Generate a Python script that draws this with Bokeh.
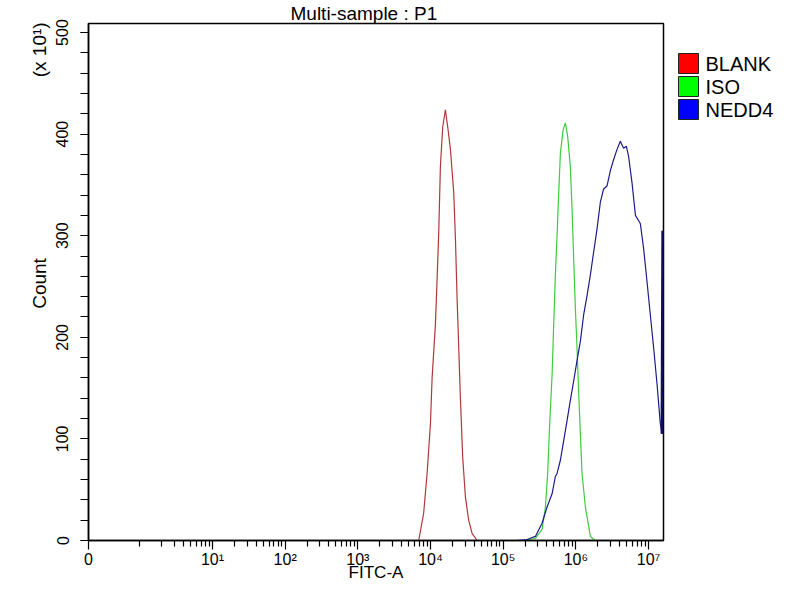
import math
from bokeh.plotting import figure
from bokeh.layouts import row
from bokeh.models import Range1d, FixedTicker, LinearAxis
from bokeh.core.properties import value
from bokeh.embed import file_html
from bokeh.resources import INLINE

FONT = "Liberation Sans"

# histogram outlines: x = log10(FITC-A), y = count (x 10^1)
blank_x = [3.838, 3.906, 3.953, 3.999, 4.022, 4.067, 4.091, 4.113, 4.136, 4.168,
           4.205, 4.237, 4.274, 4.320, 4.343, 4.366, 4.388, 4.411, 4.443, 4.480,
           4.525, 4.572, 4.641]
blank_y = [0, 27, 66, 115, 160, 212, 258, 303, 368, 407,
           424, 407, 385, 342, 297, 238, 190, 141, 82, 43,
           20, 7, 0]

iso_x = [5.278, 5.443, 5.535, 5.581, 5.612, 5.640, 5.673, 5.695, 5.718, 5.741,
         5.764, 5.787, 5.824, 5.856, 5.887, 5.924, 5.948, 5.970, 5.993, 6.016,
         6.038, 6.062, 6.085, 6.131, 6.200, 6.268]
iso_y = [0, 2, 11, 33, 66, 115, 163, 212, 261, 300,
         342, 381, 404, 411, 398, 368, 326, 277, 229, 190,
         147, 105, 66, 33, 4, 0]

nedd4_x = [5.191, 5.329, 5.443, 5.535, 5.604, 5.673, 5.718, 5.741, 5.787, 5.832,
           5.879, 5.924, 5.970, 6.016, 6.062, 6.107, 6.154, 6.199, 6.245, 6.292,
           6.337, 6.382, 6.429, 6.475, 6.520, 6.567, 6.612, 6.657, 6.695, 6.726,
           6.773, 6.820, 6.887, 6.933, 6.979, 7.025, 7.070, 7.117, 7.162, 7.186,
           7.197]
nedd4_y = [0, 1, 4, 17, 33, 46, 63, 66, 79, 98,
           118, 138, 157, 177, 196, 222, 241, 261, 284, 307,
           333, 346, 349, 364, 375, 385, 393, 386, 388, 378,
           352, 320, 312, 287, 255, 222, 190, 154, 115, 105,
           305]

samples = ["BLANK", "ISO", "NEDD4"]
line_colors = ["#b03838", "#3ccc3c", "#1c1c8a"]
box_colors = ["#ff0000", "#00ff00", "#0000ff"]

decades = [1, 2, 3, 4, 5, 6, 7]
decade_labels = ["10\u00b9", "10\u00b2", "10\u00b3", "10\u2074", "10\u2075", "10\u2076", "10\u2077"]
zero_pos = -0.706   # the "0" end of the display scale
x_end = 7.206
y_ticks = [0, 100, 200, 300, 400, 500]

p = figure(width=665, height=584, output_backend="svg", toolbar_location=None,
           x_range=Range1d(zero_pos, x_end), y_range=Range1d(0, 508.9),
           min_border_left=88, min_border_right=2, min_border_top=23, min_border_bottom=40)
p.background_fill_color = "white"
p.border_fill_color = "white"
p.outline_line_color = "black"
p.outline_line_width = 1.5
p.xgrid.visible = False
p.ygrid.visible = False

p.title.text = "Multi-sample : P1"
p.title.text_font = FONT
p.title.text_font_size = "19px"
p.title.text_font_style = "normal"
p.title.text_color = "black"
p.title.align = "left"
p.title.offset = 202
p.title.standoff = 0

minor = [math.log10(k * 10 ** d) for d in range(0, 7) for k in range(1, 10) if not (k == 1 and d > 0)]
p.xaxis.ticker = FixedTicker(ticks=[zero_pos] + decades, minor_ticks=minor)
overrides = {zero_pos: "0"}
for d, lab in zip(decades, decade_labels):
    overrides[d] = lab
p.xaxis.major_label_overrides = overrides
p.xaxis.axis_label = "FITC-A"
p.xaxis.axis_label_text_font = FONT
p.xaxis.axis_label_text_font_size = "17px"
p.xaxis.axis_label_text_font_style = "normal"
p.xaxis.axis_label_text_color = "black"
p.xaxis.axis_label_standoff = -8

p.yaxis.ticker = FixedTicker(ticks=y_ticks, minor_ticks=list(range(0, 520, 20)))
p.yaxis.major_label_orientation = "vertical"

for ax in (p.xaxis, p.yaxis):
    ax.axis_line_width = 1.5
    ax.axis_line_color = "black"
    ax.major_tick_line_color = "black"
    ax.minor_tick_line_color = "black"
    ax.major_tick_line_width = 1.2
    ax.minor_tick_line_width = 1.2
    ax.major_tick_in = 0
    ax.minor_tick_in = 0
    ax.major_label_text_font = FONT
    ax.major_label_text_font_size = "16px"
    ax.major_label_text_color = "black"
p.xaxis.major_tick_out = 9
p.xaxis.minor_tick_out = 6
p.xaxis.major_label_standoff = 1
p.yaxis.major_tick_out = 8
p.yaxis.minor_tick_out = 8
p.yaxis.major_label_standoff = 12

# outer left axis carrying the "Count" title and the scale factor
side_pos = [253, 483]
side_text = ["Count", "(x 10\u00b9)"]
side = LinearAxis(ticker=FixedTicker(ticks=side_pos),
                  major_label_overrides=dict(zip(side_pos, side_text)),
                  major_label_orientation="vertical", major_label_standoff=3,
                  major_label_text_font=FONT, major_label_text_font_size="19px",
                  major_label_text_color="black",
                  major_tick_out=0, major_tick_in=0, minor_tick_out=0, minor_tick_in=0,
                  axis_line_color=None, major_tick_line_color=None, minor_tick_line_color=None)
p.add_layout(side, "left")

p.line(blank_x, blank_y, line_color=line_colors[0], line_width=1.2)
p.line(iso_x, iso_y, line_color=line_colors[1], line_width=1.2)
p.line(nedd4_x, nedd4_y, line_color=line_colors[2], line_width=1.2)
# last channel pile-up drawn heavier, as in the cytometer export
p.line(nedd4_x[-2:], nedd4_y[-2:], line_color="#10105a", line_width=3)

# legend panel on the right; its frame is aligned with the main frame,
# so the range is given in page pixels (y downwards)
lg = figure(width=119, height=584, output_backend="svg", toolbar_location=None,
            x_range=Range1d(0, 119), y_range=Range1d(540, 23), min_border=0)
lg.title = None
lg.axis.visible = False
lg.grid.visible = False
lg.outline_line_color = None
lg.background_fill_color = "white"
lg.border_fill_color = "white"
tops = [53 + 23 * i for i in range(len(samples))]
lg.quad(left=13, right=33, top=tops, bottom=[t + 20 for t in tops],
        fill_color=box_colors, line_color="#202020", line_width=1)
lg.text(x=40, y=[t + 10 for t in tops], text=samples, text_font=value(FONT),
        text_font_size="20px", text_baseline="middle", text_align="left", text_color="black")

layout = row(p, lg, spacing=0)
open("out.html", "w").write(file_html(layout, INLINE))
